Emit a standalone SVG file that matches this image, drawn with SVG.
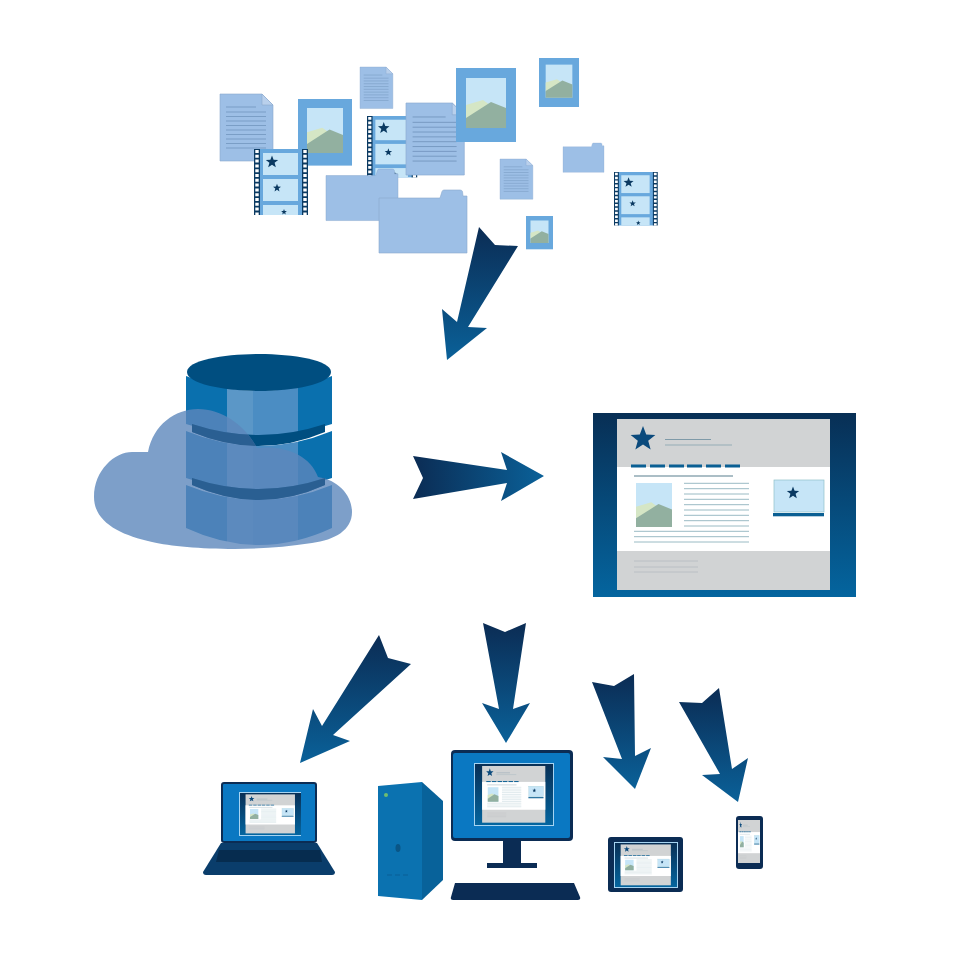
<svg xmlns="http://www.w3.org/2000/svg" xmlns:xlink="http://www.w3.org/1999/xlink" width="980" height="980" viewBox="0 0 980 980">
<style>
.doc{fill:#9dbfe6;stroke:#8aa9cf;stroke-width:.6}
.fold{fill:#b9d0ec;stroke:#8aa9cf;stroke-width:.6}
.dl{stroke:#6c8fb8;stroke-width:.7}
.fld{fill:#9dbfe6;stroke:#8aa9cf;stroke-width:.6}
.dark{fill:#0b2c54}
.scr{fill:#0a78c2}
.star{fill:#0b3a62}
.tl{stroke:#8fb3bd;stroke-width:.9}
.fl{stroke:#b5bbc0;stroke-width:.8}
.nav{fill:#0a5f93}
.arrow{fill:url(#av)}
</style>
<defs>
<linearGradient id="av" x1="0" y1="0" x2="0" y2="1"><stop offset="0" stop-color="#0b2c54"/><stop offset="1" stop-color="#0a6199"/></linearGradient>
<linearGradient id="ah" x1="0" y1="0" x2="1" y2="0"><stop offset="0" stop-color="#0b2c54"/><stop offset="1" stop-color="#0a6199"/></linearGradient>
<linearGradient id="fr" x1="0" y1="0" x2="0" y2="1"><stop offset="0" stop-color="#082f55"/><stop offset="1" stop-color="#04659f"/></linearGradient>
<linearGradient id="seg" gradientUnits="userSpaceOnUse" x1="186" y1="0" x2="332" y2="0">
<stop offset=".281" stop-color="#0a70ae"/><stop offset=".281" stop-color="#5b97c7"/><stop offset=".459" stop-color="#5b97c7"/><stop offset=".459" stop-color="#4b8dc3"/><stop offset=".767" stop-color="#4b8dc3"/><stop offset=".767" stop-color="#0a70ae"/>
</linearGradient>
<polygon id="star" points="0,-1 .247,-.34 .951,-.309 .4,.13 .588,.809 0,.42 -.588,.809 -.4,.13 -.951,-.309 -.247,-.34"/>
<path id="cloudShape" d="M148,452C153,425 175,409 198,409C222,409 245,425 257,448C285,445 310,455 318,477C338,480 352,495 352,512C352,530 335,540 312,543C285,547 260,549 235,549C200,549 170,546 152,542C120,535 94,522 94,497C94,470 115,452 132,452C138,452 143,452 148,452Z"/>
<clipPath id="cloudClip"><use href="#cloudShape"/></clipPath>
<g id="pic">
<rect width="40" height="50" fill="#c6e5f7"/>
<polygon points="0,27 17,22 24,27 0,41" fill="#d5e6c5"/>
<polygon points="0,40 25,24 40,30 40,50 0,50" fill="#92b0a0"/>
</g>
<g id="img">
<rect width="60" height="74" fill="#68a8dd"/>
<use href="#pic" x="10" y="10"/>
</g>
<g id="doc">
<path class="doc" d="M0,0H42L53,11V67H0Z"/>
<path class="fold" d="M42,0L53,11H42Z"/>
<path class="dl" d="M6,13H36M6,18H46M6,22.500H46M6,27H46M6,31.500H46M6,36H46M6,40.500H46M6,45H46M6,49.500H46M6,54H46"/>
</g>
<g id="folder">
<path class="fld" d="M0,8H61L63,1.500Q63.500,0 65,0H81Q83,0 83.500,1.500L84,6H88V63H0Z"/>
</g>
<g id="film">
<rect x="5" width="44" height="66" fill="#68a8dd"/>
<rect width="6" height="66" fill="#0b3a62"/><rect x="48" width="6" height="66" fill="#0b3a62"/>
<path d="M3,1V66M51,1V66" stroke="#fff" stroke-width="3.400" stroke-dasharray="3 1.800" fill="none"/>
<rect x="9" y="4" width="35" height="22" fill="#c6e5f7"/>
<rect x="9" y="30" width="35" height="22" fill="#c6e5f7"/>
<rect x="9" y="56" width="35" height="10" fill="#c6e5f7"/>
<use href="#star" class="star" transform="translate(18 13) scale(6.500)"/>
<use href="#star" class="star" transform="translate(23 39) scale(4.200)"/>
<use href="#star" class="star" transform="translate(30 63) scale(3)"/>
</g>
<g id="page">
<rect width="213" height="171" fill="#d1d3d4"/>
<rect y="48" width="213" height="84" fill="#fff"/>
<use href="#star" fill="#0b4a7c" transform="translate(26 20) scale(13)"/>
<path d="M48,20.500H94" stroke="#7f9aa8" stroke-width="1.200"/>
<path d="M48,26H115" stroke="#8fa8b3" stroke-width=".9"/>
<g class="nav"><rect x="14" y="45.500" width="15" height="3"/><rect x="33" y="45.500" width="15" height="3"/><rect x="52" y="45.500" width="15" height="3"/><rect x="70" y="45.500" width="15" height="3"/><rect x="89" y="45.500" width="15" height="3"/><rect x="108" y="45.500" width="15" height="3"/></g>
<path d="M17,57H116" stroke="#8fa8b3" stroke-width="1.500"/>
<use href="#pic" transform="translate(19 64) scale(.9 .88)"/>
<path class="tl" d="M67,64.300H132M67,69.700H132M67,75H132M67,80.300H132M67,85.700H132M67,91H132M67,96.300H132M67,101.700H132M67,107H132M17,112.300H132M17,117.700H132M17,123H132"/>
<rect x="157" y="61" width="50" height="32" fill="#c6e5f7" stroke="#8fc0c8" stroke-width=".7"/>
<rect x="156" y="94" width="51" height="3.300" fill="#0a5f93"/>
<use href="#star" class="star" transform="translate(176 74) scale(6.500)"/>
<path class="fl" d="M17,142H81M17,148H81M17,153H81"/>
</g>
<g id="site">
<rect width="263" height="184" fill="url(#fr)"/>
<use href="#page" x="24" y="6"/>
</g>
</defs>

<g id="files">
<use id="doc-1" href="#doc" transform="translate(220 94)"/>
<use id="image-1" href="#img" transform="translate(298 99) scale(.9)"/>
<use id="film-1" href="#film" transform="translate(254 149)"/>
<use id="doc-2" href="#doc" transform="translate(360 67) scale(.62)"/>
<use id="film-2" href="#film" transform="translate(367 116) scale(.93)"/>
<use id="folder-1" href="#folder" transform="translate(326 169) scale(.818)"/>
<use id="doc-3" href="#doc" transform="translate(406 103) scale(1.100 1.075)"/>
<use id="folder-2" href="#folder" transform="translate(379 190)"/>
<use id="image-2" href="#img" transform="translate(456 68)"/>
<use id="image-3" href="#img" transform="translate(539 58) scale(.667 .662)"/>
<use id="doc-4" href="#doc" transform="translate(500 159) scale(.62 .6)"/>
<use id="folder-3" href="#folder" transform="translate(563 143) scale(.466)"/>
<use id="film-3" href="#film" transform="translate(614 172) scale(.81)"/>
<use id="image-4" href="#img" transform="translate(526 216) scale(.45)"/>
</g>

<g id="database">
<path d="M186,376Q259,406 332,376V424Q259,448 186,424Z" fill="url(#seg)"/>
<path id="band1" d="M192,424Q259,446 325,424V432Q259,460 192,432Z" fill="#004e80"/>
<path d="M186,431Q259,461 332,431V478Q259,504 186,478Z" fill="url(#seg)"/>
<path id="band2" d="M192,478Q259,500 325,478V485Q259,515 192,485Z" fill="#004e80"/>
<path d="M186,485Q259,515 332,485V528Q259,562 186,528Z" fill="url(#seg)"/>
<path d="M187,372C187,360 225,354 259,354C293,354 331,360 331,372C331,384 293,391 259,391C225,391 187,384 187,372Z" fill="#004e80"/>
</g>
<g id="cloud">
<use href="#cloudShape" fill="#5c87bb" opacity=".8"/>
<g clip-path="url(#cloudClip)" fill="#2a5f92">
<path d="M192,424Q259,446 325,424V432Q259,460 192,432Z"/>
<path d="M192,478Q259,500 325,478V485Q259,515 192,485Z"/>
</g>
</g>

<g id="website"><use href="#site" transform="translate(593 413)"/></g>

<g id="laptop">
<path d="M221,843H317L335,872Q335,875 332,875H206Q203,875 203,872Z" fill="#0a3d6b"/>
<path d="M219,850H320L322,862H216Z" fill="#062c4f"/>
<rect x="221" y="782" width="96" height="61" rx="3" class="dark"/>
<rect x="223" y="784" width="92" height="57" rx="1" class="scr"/>
<rect x="239" y="792" width="62" height="44" fill="#a6d4f2"/>
<use href="#site" transform="translate(240 793) scale(.2319 .2283)"/>
</g>

<g id="tower">
<polygon points="422,782 443,801 443,880 422,900" fill="#08629a"/>
<polygon points="378,786 422,782 422,900 378,896" fill="#0b72b0"/>
<circle cx="386" cy="795" r="2" fill="#6fbd6f"/>
<ellipse cx="398" cy="848" rx="2.500" ry="4" fill="#0a5686"/>
<path d="M387,875H392M395,875H400M403,875H408" stroke="#0a5f96" stroke-width="1"/>
</g>

<g id="monitor">
<rect x="503" y="838" width="18" height="27" class="dark"/>
<rect x="487" y="863" width="50" height="5" class="dark"/>
<rect x="451" y="750" width="122" height="91" rx="4" class="dark"/>
<rect x="453" y="753" width="117" height="85" rx="2" class="scr"/>
<rect x="474" y="763" width="80" height="63" fill="#a6d4f2"/>
<use href="#site" transform="translate(475 764) scale(.2966 .3315)"/>
<path d="M455,883H574L580,897Q581,900 578,900H453Q450,900 451,897Z" class="dark"/>
</g>

<g id="tablet">
<rect x="608" y="837" width="75" height="55" rx="3" class="dark"/>
<rect x="614" y="842" width="64" height="46" fill="#a6d4f2"/>
<use href="#site" transform="translate(615 843) scale(.2357 .2391)"/>
</g>

<g id="phone">
<rect x="736" y="816" width="27" height="53" rx="3" class="dark"/>
<use href="#page" transform="translate(738 820) scale(.1033 .2515)"/>
</g>

<g id="connectors">
<polygon class="arrow" points="479,227 495,245 518,246 468,327 487,328 447,360 442,309 457,322"/>
<polygon fill="url(#ah)" points="413,456 507,470 501,452 544,476 501,501 507,483 413,499 423,478"/>
<polygon class="arrow" points="379,635 388,658 411,664 333,735 350,741 300,763 313,709 322,726"/>
<polygon class="arrow" points="483,623 505,632 526,623 513,709 530,703 506,743 482,703 499,709"/>
<polygon class="arrow" points="592,682 614,686 634,674 635,756 651,748 635,789 603,757 622,759"/>
<polygon class="arrow" points="679,702 702,703 719,688 732,769 748,758 738,802 702,775 720,774"/>
</g>
</svg>
